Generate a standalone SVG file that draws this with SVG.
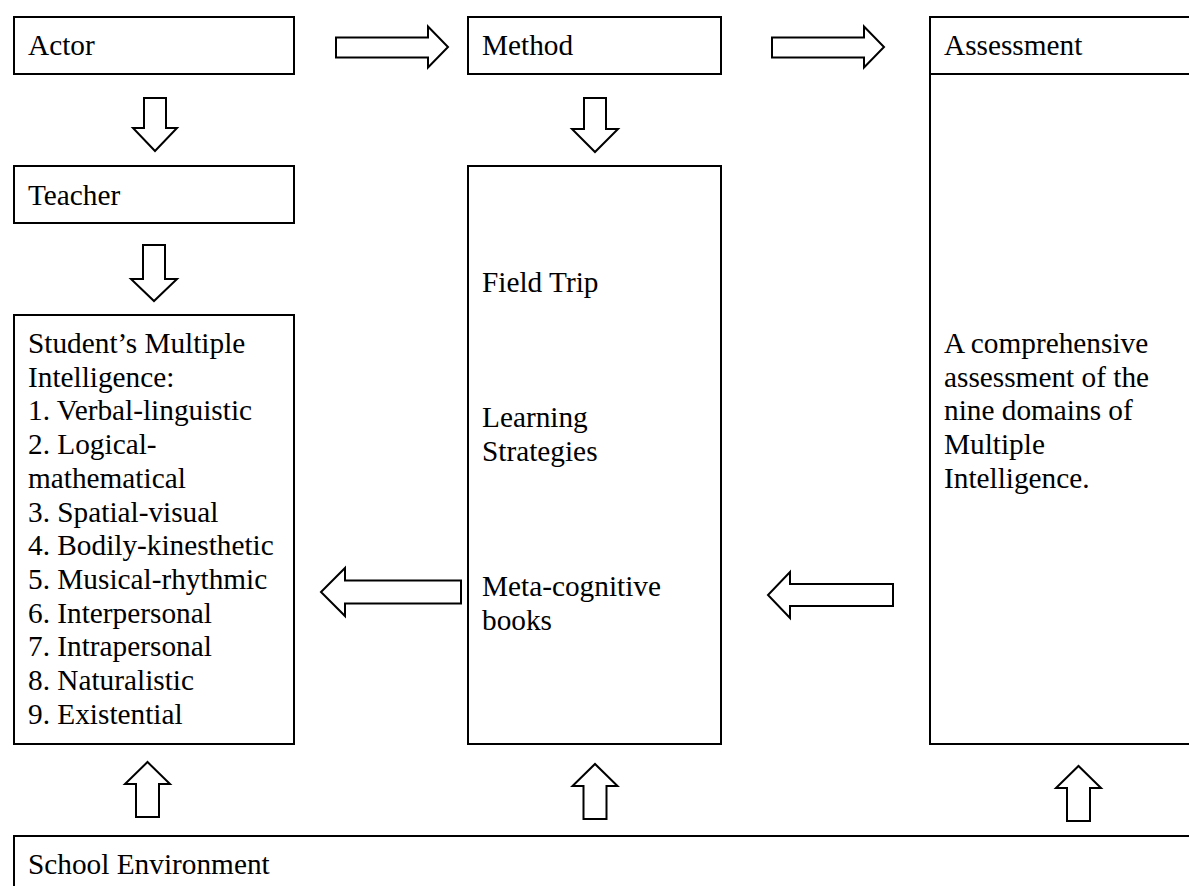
<svg xmlns="http://www.w3.org/2000/svg" width="1189" height="886" viewBox="0 0 1189 886" font-family="'Liberation Serif', 'Times New Roman', serif">
  <style>
    .box { fill: #ffffff; stroke: #000000; stroke-width: 2; }
    .arrow { fill: #ffffff; stroke: #000000; stroke-width: 2; stroke-linejoin: miter; }
    text { font-family: "Liberation Serif", "Times New Roman", serif; font-size: 29.3px; fill: #000000; }
  </style>
  <rect x="0" y="0" width="1189" height="886" fill="#ffffff"/>

  <!-- Top row -->
  <g id="actor">
    <rect class="box" x="14" y="17" width="280" height="57"/>
    <text x="28" y="55">Actor</text>
  </g>
  <g id="method">
    <rect class="box" x="468" y="17" width="253" height="57"/>
    <text x="482" y="55">Method</text>
  </g>
  <g id="assessment">
    <rect class="box" x="930" y="17" width="280" height="57"/>
    <text x="944" y="55">Assessment</text>
  </g>

  <!-- Second row -->
  <g id="teacher">
    <rect class="box" x="14" y="166" width="280" height="57"/>
    <text x="28" y="205">Teacher</text>
  </g>

  <g id="students">
    <rect class="box" x="14" y="315" width="280" height="429"/>
    <text x="28" y="353">Student’s Multiple</text>
    <text x="28" y="386.7">Intelligence:</text>
    <text x="28" y="420.4">1. Verbal-linguistic</text>
    <text x="28" y="454.1">2. Logical-</text>
    <text x="28" y="487.8">mathematical</text>
    <text x="28" y="521.5">3. Spatial-visual</text>
    <text x="28" y="555.2">4. Bodily-kinesthetic</text>
    <text x="28" y="588.9">5. Musical-rhythmic</text>
    <text x="28" y="622.6">6. Interpersonal</text>
    <text x="28" y="656.3">7. Intrapersonal</text>
    <text x="28" y="690">8. Naturalistic</text>
    <text x="28" y="723.7">9. Existential</text>
  </g>

  <g id="methods-detail">
    <rect class="box" x="468" y="166" width="253" height="578"/>
    <text x="482" y="292">Field Trip</text>
    <text x="482" y="427">Learning</text>
    <text x="482" y="460.7">Strategies</text>
    <text x="482" y="596">Meta-cognitive</text>
    <text x="482" y="629.7">books</text>
  </g>

  <g id="assessment-detail">
    <rect class="box" x="930" y="74" width="280" height="670"/>
    <text x="944" y="353">A comprehensive</text>
    <text x="944" y="386.7">assessment of the</text>
    <text x="944" y="420.4">nine domains of</text>
    <text x="944" y="454.1">Multiple</text>
    <text x="944" y="487.8">Intelligence.</text>
  </g>

  <g id="school-environment">
    <rect class="box" x="14" y="836" width="1200" height="80"/>
    <text x="28" y="874">School Environment</text>
  </g>

  <!-- Block arrows -->
  <g id="connectors">
    <!-- Actor to Method -->
    <polygon class="arrow" points="336,37.5 428,37.5 428,26.5 448,47 428,67.5 428,57.5 336,57.5"/>
    <!-- Method to Assessment -->
    <polygon class="arrow" points="772,37.5 864,37.5 864,26.5 884,47 864,67.5 864,57.5 772,57.5"/>
    <!-- Actor to Teacher -->
    <polygon class="arrow" points="144,98 166,98 166,128 177,128 155,151 133,128 144,128"/>
    <!-- Teacher to Student -->
    <polygon class="arrow" points="143,245 165,245 165,279 177,279 154,301 131,279 143,279"/>
    <!-- Method to methods detail -->
    <polygon class="arrow" points="584,98 606,98 606,129 618,129 595,152 572,129 584,129"/>
    <!-- Methods detail to Student -->
    <polygon class="arrow" points="461,580.5 345,580.5 345,568 321,592 345,616 345,603.5 461,603.5"/>
    <!-- Assessment to methods detail -->
    <polygon class="arrow" points="893,584 790,584 790,572 768,595 790,618 790,606 893,606"/>
    <!-- School Environment upward -->
    <polygon class="arrow" points="136,817 159,817 159,784 170,784 147.5,762 125,784 136,784"/>
    <polygon class="arrow" points="583.5,819 606.5,819 606.5,786 617.5,786 595,764 572.5,786 583.5,786"/>
    <polygon class="arrow" points="1067,821 1090,821 1090,788 1101,788 1078.5,766 1056,788 1067,788"/>
  </g>
</svg>
